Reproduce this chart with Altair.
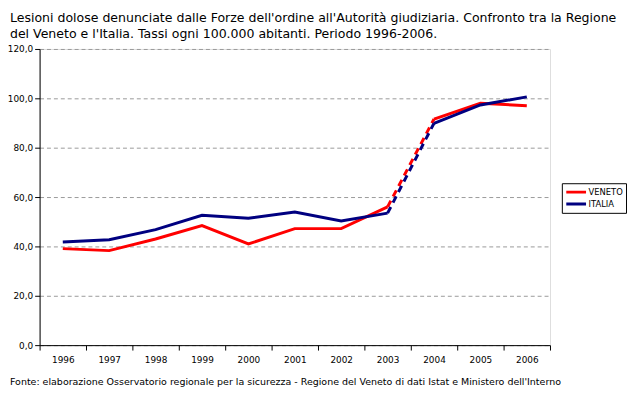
import altair as alt
import pandas as pd

years = ["1996", "1997", "1998", "1999", "2000", "2001", "2002", "2003", "2004", "2005", "2006"]
veneto = [39.1, 38.3, 43.0, 48.4, 41.0, 47.2, 47.2, 56.0, 91.6, 98.0, 97.0]
italia = [41.8, 42.7, 46.8, 52.6, 51.4, 53.9, 50.3, 53.5, 89.9, 97.3, 100.6]
series_names = ["VENETO", "ITALIA"]
series_colors = ["#FF0000", "#000080"]
y_ticks = [0, 20, 40, 60, 80, 100, 120]

title_line1 = "Lesioni dolose denunciate dalle Forze dell'ordine all'Autorità giudiziaria. Confronto tra la Regione"
title_line2 = "del Veneto e l'Italia. Tassi ogni 100.000 abitanti. Periodo 1996-2006."
footer = "Fonte: elaborazione Osservatorio regionale per la sicurezza - Regione del Veneto di dati Istat e Ministero dell'Interno"

rows = []
for name, vals in zip(series_names, [veneto, italia]):
    for i, (yr, v) in enumerate(zip(years, vals)):
        rows.append({"serie": name, "anno": yr, "idx": i, "valore": v})
df = pd.DataFrame(rows)

FONT = "DejaVu Sans"

x_enc = alt.X(
    "anno:O",
    scale=alt.Scale(domain=years, paddingInner=0, paddingOuter=0),
    axis=alt.Axis(
        title=None, labelAngle=0, tickBand="extent", labelFont=FONT, labelFontSize=9,
        labelColor="black", tickColor="black", domainColor="black", tickSize=5,
        labelPadding=6, grid=False,
    ),
)
y_enc = alt.Y(
    "valore:Q",
    scale=alt.Scale(domain=[0, 120], nice=False),
    axis=alt.Axis(
        title=None, values=y_ticks,
        labelExpr="replace(format(datum.value, '.1f'), '.', ',')",
        labelFont=FONT, labelFontSize=9, labelColor="black", tickColor="black",
        domainColor="black", tickSize=5, labelPadding=2,
        grid=True, gridColor="#999999", gridDash=[4, 3], gridWidth=1,
    ),
)
color_enc = alt.Color(
    "serie:N",
    scale=alt.Scale(domain=series_names, range=series_colors),
    legend=alt.Legend(
        title=None, orient="none", legendX=529, legendY=136,
        symbolType="stroke", symbolSize=400, symbolStrokeWidth=3,
        labelFont=FONT, labelFontSize=8.5, labelColor="black",
        strokeColor="black", padding=3, rowPadding=0, labelOffset=1,
        clipHeight=12, fillColor="white",
    ),
)

base = alt.Chart(df)
solid1 = base.transform_filter("datum.idx <= 7").mark_line(strokeWidth=3).encode(
    x=x_enc, y=y_enc, color=color_enc, detail="serie:N")
dashed = base.transform_filter("datum.idx >= 7 && datum.idx <= 8").mark_line(
    strokeWidth=3, strokeDash=[7, 5]).encode(x=x_enc, y=y_enc, color=color_enc, detail="serie:N")
solid2 = base.transform_filter("datum.idx >= 8").mark_line(strokeWidth=3).encode(
    x=x_enc, y=y_enc, color=color_enc, detail="serie:N")

def text_mark(txt, y, size):
    return alt.Chart(pd.DataFrame({"t": [txt]})).mark_text(
        align="left", baseline="alphabetic", font=FONT, fontSize=size, color="black"
    ).encode(x=alt.value(-30), y=alt.value(y), text="t:N")

chart = alt.layer(
    solid1, dashed, solid2,
    text_mark(title_line1, -27, 12.7),
    text_mark(title_line2, -11, 12.7),
    text_mark(footer, 340, 9.6),
).properties(
    width=517, height=300,
    autosize=alt.AutoSizeParams(type="none"),
    padding={"left": 32, "top": 39, "right": 78, "bottom": 47},
).configure_view(stroke="black", strokeWidth=1).configure(background="white")

chart.save("out.html", embed_options={"renderer": "svg", "actions": False})
